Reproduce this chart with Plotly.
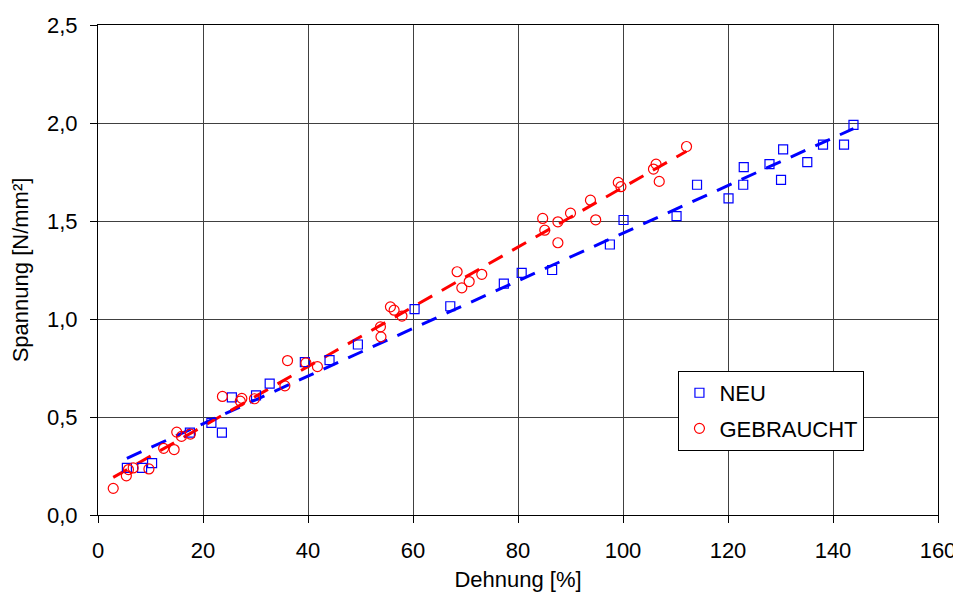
import numpy as np
import plotly.graph_objects as go

# NEU (new) measurements
neu_x = [5.5, 8.4, 10.3, 17.5, 21.6, 23.6, 25.5, 30.1, 32.7, 39.4, 44.1, 49.5, 60.3, 67.1, 77.3,
         80.7, 86.5, 97.5, 100.1, 110.2, 114.1, 120.1, 122.9, 123.0, 127.9, 130.5, 130.1, 135.1,
         138.1, 142.1, 143.9]
neu_y = [0.24, 0.24, 0.265, 0.42, 0.47, 0.42, 0.60, 0.61, 0.67, 0.78, 0.79, 0.87, 1.05, 1.065, 1.18,
         1.235, 1.25, 1.38, 1.505, 1.525, 1.685, 1.615, 1.685, 1.775, 1.79, 1.865, 1.71, 1.80,
         1.89, 1.89, 1.99]

# GEBRAUCHT (used) measurements
geb_x = [2.9, 5.4, 5.8, 6.7, 9.7, 12.5, 14.5, 15.0, 15.9, 17.6, 23.7, 27.4, 27.1, 29.8, 35.6, 36.1,
         39.6, 41.8, 53.8, 53.9, 55.7, 56.4, 57.9, 68.4, 69.3, 70.7, 73.1, 84.7, 85.1, 87.6, 87.6,
         90.0, 93.8, 94.8, 99.1, 99.6, 105.8, 106.3, 106.9, 112.1]
geb_y = [0.136, 0.20, 0.232, 0.24, 0.235, 0.34, 0.334, 0.423, 0.401, 0.413, 0.605, 0.595, 0.581,
         0.593, 0.659, 0.788, 0.776, 0.757, 0.96, 0.909, 1.062, 1.045, 1.015, 1.241, 1.159, 1.191,
         1.228, 1.513, 1.453, 1.496, 1.389, 1.54, 1.606, 1.506, 1.697, 1.675, 1.765, 1.79, 1.702,
         1.88]

x_ticks = [0, 20, 40, 60, 80, 100, 120, 140, 160]
y_ticks = [0.0, 0.5, 1.0, 1.5, 2.0, 2.5]

BLUE = "#0000FF"
RED = "#FF0000"
FONT = "Liberation Sans, Arial, sans-serif"

fig = go.Figure()

def trend(xs, ys):
    k, d = np.polyfit(xs, ys, 1)
    xr = np.array([min(xs), max(xs)])
    return xr, k * xr + d

tx, ty = trend(neu_x, neu_y)
fig.add_trace(go.Scatter(x=tx, y=ty, mode="lines", showlegend=False,
                         line=dict(color=BLUE, width=3, dash="16px,11px"), hoverinfo="skip"))
tx, ty = trend(geb_x, geb_y)
fig.add_trace(go.Scatter(x=tx, y=ty, mode="lines", showlegend=False,
                         line=dict(color=RED, width=3, dash="16px,11px"), hoverinfo="skip"))

fig.add_trace(go.Scatter(x=neu_x, y=neu_y, mode="markers", name="NEU", legendgroup="a",
                         marker=dict(symbol="square-open", size=9, color=BLUE, line=dict(width=1.2))))
fig.add_trace(go.Scatter(x=geb_x, y=geb_y, mode="markers", name="GEBRAUCHT", legendgroup="b",
                         marker=dict(symbol="circle-open", size=10, color=RED, line=dict(width=1.2))))

axis_common = dict(showgrid=True, gridcolor="#404040", gridwidth=1, showline=True,
                   linecolor="#000000", linewidth=1, mirror=True, zeroline=False,
                   ticks="outside", ticklen=7, tickcolor="#000000", automargin=False,
                   tickfont=dict(size=22, color="#000000", family=FONT))

fig.update_xaxes(range=[0, 160], tickvals=x_ticks, ticklabelstandoff=9,
                 title=dict(text="Dehnung [%]", font=dict(size=22, color="#000000", family=FONT),
                            standoff=9),
                 **axis_common)
fig.update_yaxes(range=[0, 2.5], tickvals=y_ticks, tickformat=".1f", ticklabelstandoff=8,
                 title=dict(text="Spannung [N/mm²]", font=dict(size=22, color="#000000", family=FONT),
                            standoff=12),
                 **axis_common)

# the page body adds an 8px offset, so the figure is 8px smaller and margins shifted
fig.update_layout(
    width=953, height=587,
    margin=dict(l=90, r=23, t=17, b=80),
    paper_bgcolor="white", plot_bgcolor="white",
    font=dict(family=FONT, color="#000000"),
    separators=",.",
    legend=dict(x=0.691, y=0.294, xanchor="left", yanchor="top",
                bgcolor="white", bordercolor="#000000", borderwidth=1,
                font=dict(size=22, color="#000000", family=FONT), traceorder="grouped",
                tracegroupgap=4, itemwidth=30),
)

fig.write_html("out.html")
